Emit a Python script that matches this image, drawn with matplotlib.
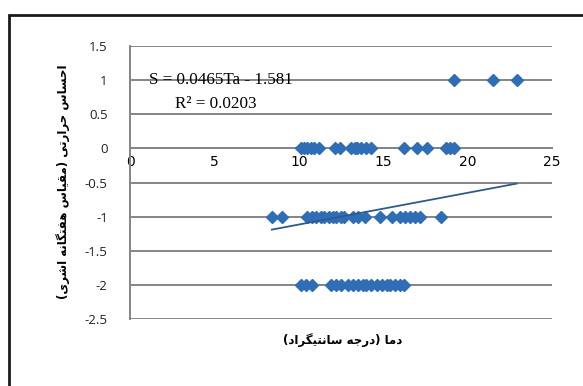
import matplotlib
matplotlib.use("Agg")
import matplotlib.pyplot as plt
from matplotlib.patches import Rectangle

# thermal sensation vs air temperature
x_hot = [19.2, 21.5, 22.9]
y_hot = [1, 1, 1]

x_neutral = [10.1, 10.3, 10.5, 10.7, 10.9, 11.2, 12.15, 12.45, 13.1, 13.3, 13.45,
             13.7, 14.0, 14.3, 16.2, 17.0, 17.6, 18.7, 18.95, 19.2]
y_neutral = [0] * len(x_neutral)

x_cool = [8.4, 9.0, 10.5, 10.8, 11.0, 11.3, 11.5, 11.8, 12.0, 12.2, 12.5, 12.7,
          13.2, 13.5, 13.9, 14.8, 15.5, 16.0, 16.3, 16.6, 16.9, 17.2, 18.4]
y_cool = [-1] * len(x_cool)

x_cold = [10.1, 10.4, 10.8, 11.9, 12.2, 12.5, 12.9, 13.2, 13.5, 13.8, 14.0, 14.3,
          14.6, 14.9, 15.2, 15.4, 15.7, 16.0, 16.2]
y_cold = [-2] * len(x_cold)

# Excel trendline as printed on the chart
slope = 0.0465
intercept = -1.581
r2 = 0.0203

x_label = "دما (درجه سانتیگراد)"
y_label = "احساس حرارتی (مقیاس هفتگانه اشری)"


# ---- tiny arabic/persian shaper, matplotlib does not join letters ----
# letter: (isolated, final, initial, medial)
forms = {
    "ا": ("\uFE8D", "\uFE8E", None, None),
    "د": ("\uFEA9", "\uFEAA", None, None),
    "ر": ("\uFEAD", "\uFEAE", None, None),
    "ح": ("\uFEA1", "\uFEA2", "\uFEA3", "\uFEA4"),
    "س": ("\uFEB1", "\uFEB2", "\uFEB3", "\uFEB4"),
    "ش": ("\uFEB5", "\uFEB6", "\uFEB7", "\uFEB8"),
    "ت": ("\uFE95", "\uFE96", "\uFE97", "\uFE98"),
    "ج": ("\uFE9D", "\uFE9E", "\uFE9F", "\uFEA0"),
    "ی": ("\uFBFC", "\uFBFD", "\uFBFE", "\uFBFF"),
    "م": ("\uFEE1", "\uFEE2", "\uFEE3", "\uFEE4"),
    "ق": ("\uFED5", "\uFED6", "\uFED7", "\uFED8"),
    "ه": ("\uFEE9", "\uFEEA", "\uFEEB", "\uFEEC"),
    "ف": ("\uFED1", "\uFED2", "\uFED3", "\uFED4"),
    "گ": ("\uFB92", "\uFB93", "\uFB94", "\uFB95"),
    "ن": ("\uFEE5", "\uFEE6", "\uFEE7", "\uFEE8"),
}


def shape(text):
    out = []
    for i, ch in enumerate(text):
        if ch not in forms:
            out.append(ch)
            continue
        iso, fin, ini, med = forms[ch]
        prev = text[i - 1] if i > 0 else ""
        nxt = text[i + 1] if i + 1 < len(text) else ""
        join_prev = prev in forms and forms[prev][2] is not None
        join_next = ini is not None and nxt in forms
        if join_prev and join_next:
            out.append(med)
        elif join_prev:
            out.append(fin)
        elif join_next:
            out.append(ini)
        else:
            out.append(iso)
    vis = "".join(reversed(out))
    return vis.replace("(", "\0").replace(")", "(").replace("\0", ")")


fig = plt.figure(figsize=(5.83, 3.86), dpi=100)
ax = fig.add_axes([0.223, 0.1736, 0.724, 0.7072])

blue = "#2F6DB5"
for xs, ys in [(x_hot, y_hot), (x_neutral, y_neutral), (x_cool, y_cool), (x_cold, y_cold)]:
    ax.plot(xs, ys, linestyle="none", marker="D", markersize=6, color=blue, zorder=3)

all_x = x_hot + x_neutral + x_cool + x_cold
tx = [min(all_x), max(all_x)]
ax.plot(tx, [slope * v + intercept for v in tx], color="#2F5A8C", linewidth=1.3, zorder=4)

ax.set_xlim(0, 25)
ax.set_ylim(-2.5, 1.5)
ax.set_yticks([1.5, 1, 0.5, 0, -0.5, -1, -1.5, -2, -2.5])
ax.set_yticklabels(["1.5", "1", "0.5", "0", "-0.5", "-1", "-1.5", "-2", "-2.5"],
                   family="Open Sans", fontsize=9.5, color="#222222")
ax.set_xticks([0, 5, 10, 15, 20, 25])
ax.set_xticklabels(["0", "5", "10", "15", "20", "25"], family="Liberation Serif", fontsize=12)
ax.tick_params(length=0)
ax.tick_params(axis="y", pad=16)
ax.tick_params(axis="x", pad=5)

ax.grid(axis="y", color="#858585", linewidth=1.4)
ax.set_axisbelow(True)
for s in ["top", "right"]:
    ax.spines[s].set_visible(False)
ax.spines["left"].set_color("#858585")
ax.spines["left"].set_linewidth(1.4)
ax.spines["bottom"].set_position(("data", 0))
ax.spines["bottom"].set_color("#858585")
ax.spines["bottom"].set_linewidth(1.4)

ax.text(0.045, 0.862, f"S = {slope}Ta - {abs(intercept)}", transform=ax.transAxes,
        family="Liberation Serif", fontsize=12.3, va="baseline")
ax.text(0.107, 0.772, f"R² = {r2}", transform=ax.transAxes,
        family="Liberation Serif", fontsize=12.3, va="baseline")

fig.text(0.587, 0.118, shape(x_label), ha="center", va="center",
         family="DejaVu Sans", fontsize=8.5, weight="bold")
fig.text(0.108, 0.53, shape(y_label), ha="center", va="center", rotation=90,
         family="DejaVu Sans", fontsize=8.5, weight="bold")

# outer chart frame, runs off the right and bottom edge in the picture
fig.patches.append(Rectangle((9 / 583, -0.1), 1.2, 1 - 15 / 386 + 0.1,
                             transform=fig.transFigure, fill=False,
                             edgecolor="#1a1a1a", linewidth=2))

fig.savefig("out.png", dpi=100)
